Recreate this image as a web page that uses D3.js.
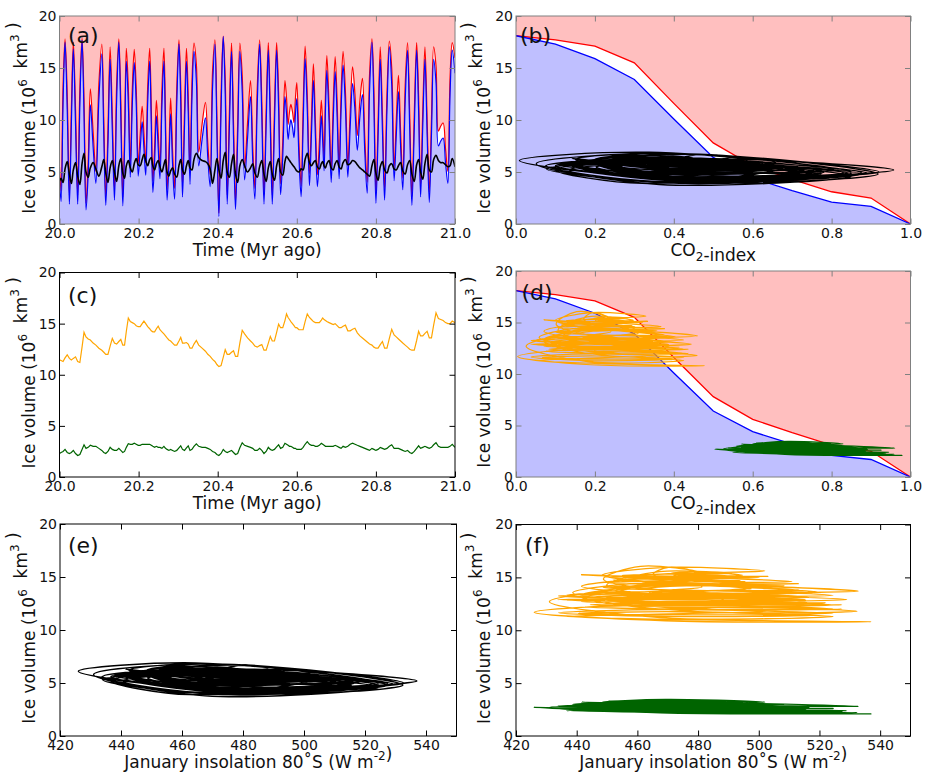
<!DOCTYPE html>
<html>
<head>
<meta charset="utf-8">
<script src="https://cdn.jsdelivr.net/npm/d3@7"></script>
<style>
  body { margin: 0; background: #ffffff; }
  svg { display: block; font-family: "DejaVu Sans", "Liberation Sans", sans-serif; }
</style>
</head>
<body>
<svg id="chart" width="930" height="782"></svg>
<script>
// ---------------- DATA ----------------
// Time samples (Myr ago): insolation extremes and the quarter-phase points between them
const time = [
  20.000,20.004,20.009,20.014,20.0195,20.025,20.030,20.035,20.0405,20.046,
  20.0515,20.057,20.062,20.067,20.0725,20.078,20.085,20.092,20.0995,20.107,
  20.112,20.117,20.1225,20.128,20.1335,20.139,20.1445,20.150,20.155,20.160,
  20.1645,20.169,20.174,20.179,20.184,20.189,20.194,20.199,20.204,20.209,
  20.2135,20.218,20.223,20.228,20.232,20.236,20.2405,20.245,20.2495,20.254,
  20.259,20.264,20.268,20.272,20.2765,20.281,20.286,20.291,20.2965,20.302,
  20.3065,20.311,20.316,20.321,20.3255,20.330,20.335,20.340,20.346,20.352,
  20.3605,20.369,20.375,20.381,20.387,20.393,20.398,20.403,20.4085,20.414,
  20.419,20.424,20.4295,20.435,20.440,20.445,20.4505,20.456,20.462,20.468,
  20.4755,20.483,20.4885,20.494,20.500,20.506,20.5115,20.517,20.5225,20.528,
  20.533,20.538,20.5435,20.549,20.554,20.559,20.5645,20.570,20.574,20.578,
  20.5815,20.585,20.589,20.593,20.5965,20.600,20.6055,20.611,20.616,20.621,
  20.6265,20.632,20.637,20.642,20.647,20.652,20.657,20.662,20.6655,20.669,
  20.6725,20.676,20.6815,20.687,20.692,20.697,20.702,20.707,20.712,20.717,
  20.723,20.729,20.735,20.741,20.747,20.753,20.7595,20.766,20.772,20.778,
  20.784,20.790,20.795,20.800,20.8055,20.811,20.8165,20.822,20.828,20.834,
  20.840,20.846,20.8515,20.857,20.8625,20.868,20.874,20.880,20.8855,20.891,
  20.897,20.903,20.908,20.913,20.9185,20.924,20.9295,20.935,20.9405,20.946,
  20.952,20.958,20.964,20.970,20.976,20.982,20.9875,20.993,21.000
];
// January insolation 80°S (W m-2)
const insolation = [
  496,518,467,434,469,524.5,473.4,440.6,473.4,524.5,
  467.5,431,470.7,532.7,493,467.6,480.2,500,466.2,444.5,
  476.8,527.4,479.5,448.8,475.2,516.5,466.2,434,471,529,
  480.7,449.9,467.3,494.6,467.8,450.6,467.5,494,481,472.7,
  480.8,493.5,466.9,449.9,472.8,508.5,485.6,470.9,480.5,495.6,
  467.7,449.9,475.9,516.5,488.3,470.3,487.9,515.5,467.4,436.7,
  466.6,513.3,474.6,449.9,469.8,501,465.4,442.6,460.4,488.3,
  478,471.5,483.8,503,462.5,436.7,475.8,537,469.3,426,
  464.4,524.5,474.5,442.6,477.6,532.4,477.6,442.6,463.7,496.8,
  477.5,465.2,484.8,515.5,467.4,436.7,470.9,524.5,473.9,441.6,
  473.9,524.5,473.9,441.6,468.7,511,483.1,465.2,470.2,478,
  474.4,472.1,474.2,477.5,470.4,465.8,484.2,513,473.6,448.4,
  469.3,502,476.6,460.4,477,503,483.4,470.9,478.7,491,
  469,455,472.2,499,472.6,455.7,471.3,495.6,469,452,
  468.6,494.6,474.3,461.3,469.1,481.3,471.1,464.6,482.1,509.5,
  463.3,433.8,468.2,522,477.4,448.8,475.2,516.5,469,438.7,
  461.6,497.5,476.9,463.7,480.2,506,466.7,441.6,475.1,527.4,
  475.1,441.6,469.6,513.3,474,448.8,476.4,519.5,476.4,448.8,
  461,480,478.5,477.6,486.4,500.1,464.4,441.6,456.6
];
// Ice volume (10^6 km^3), black run
const iceBlack = [
  4.1,4.4,4.0,5.3,6.0,4.8,3.9,5.2,5.9,4.6,
  3.8,5.8,6.8,5.0,4.5,5.4,5.9,5.3,4.6,5.5,
  6.2,4.9,4.0,5.4,6.1,5.0,4.1,5.6,6.3,4.9,
  4.4,5.6,6.1,5.4,5.0,5.8,6.3,5.7,5.6,6.2,
  6.7,6.1,5.6,6.2,6.4,5.6,5.2,5.8,6.1,5.5,
  5.0,5.7,6.2,5.0,4.6,5.1,5.4,4.8,4.5,5.6,
  6.2,5.2,4.8,5.6,6.1,5.4,5.2,6.2,6.8,6.4,
  6.1,6.0,5.8,5.3,3.9,5.2,6.3,5.2,4.4,6.1,
  6.9,5.0,4.5,5.8,6.7,4.8,4.0,5.6,6.2,5.6,
  5.0,5.4,5.8,4.9,4.5,5.5,6.1,4.8,4.1,5.4,
  6.0,4.8,4.2,5.6,6.3,5.0,4.7,6.0,6.5,6.3,
  6.1,5.9,5.7,5.5,5.3,5.1,5.0,5.3,5.2,6.2,
  6.8,5.9,5.6,5.9,6.1,5.5,5.3,5.8,6.0,5.6,
  5.4,5.8,6.1,5.4,5.2,5.8,6.1,5.5,5.3,5.9,
  6.2,5.7,5.8,6.1,6.0,5.7,5.4,5.2,5.0,4.8,
  4.6,5.6,6.2,4.9,4.2,5.5,6.0,5.2,4.9,5.6,
  5.8,5.3,5.2,5.6,5.9,5.1,4.8,5.7,6.1,4.8,
  4.1,5.7,6.2,5.0,4.3,5.8,6.7,5.2,5.0,6.2,
  6.6,6.1,5.9,5.9,5.7,5.5,5.6,6.3,5.5
];
// Ice volume, orange run
const iceOrange = [
  11.45,11.4,11.3,11.65,11.95,11.6,11.45,11.6,11.75,11.3,
  11.2,12.7,14.15,13.7,13.5,13.4,13.1,12.9,12.6,12.4,
  12.2,12.0,12.0,12.8,13.55,13.1,13.0,13.25,13.45,12.9,
  12.9,14.25,15.55,15.2,15.1,15.0,14.8,14.7,14.7,15.0,
  15.25,15.0,14.7,14.5,14.3,14.2,14.2,14.5,14.75,14.4,
  14.2,14.0,13.8,13.6,13.4,13.3,13.1,12.9,12.9,13.3,
  13.65,13.1,13.1,13.15,13.0,12.6,12.6,13.0,13.35,12.9,
  12.6,12.3,12.0,11.8,11.5,11.3,11.0,10.8,10.9,11.7,
  12.45,12.0,12.0,12.2,12.35,11.8,11.8,13.1,14.35,14.0,
  13.6,13.3,13.1,12.8,12.7,12.85,12.95,12.4,12.4,13.1,
  13.75,13.3,13.3,14.15,14.95,14.6,14.6,15.3,15.95,15.6,
  15.4,15.2,15.0,14.8,14.6,14.6,14.4,14.4,14.4,15.2,
  15.95,15.6,15.4,15.2,15.1,15.1,15.1,15.35,15.55,15.4,
  15.3,15.2,15.1,15.0,14.9,15.0,14.8,14.6,14.6,14.75,
  14.85,14.3,14.3,14.45,14.55,14.1,13.8,13.6,13.4,13.2,
  13.0,12.9,12.7,12.6,12.6,12.95,13.25,12.6,12.6,13.55,
  14.45,13.9,13.7,13.5,13.3,13.1,12.9,12.7,12.5,12.4,
  12.4,13.35,14.25,13.8,13.8,14.05,14.25,13.6,13.6,14.85,
  16.05,15.5,15.4,15.3,15.1,15.0,15.0,15.25,15.1
];
// Ice volume, green run
const iceGreen = [
  2.3,2.4,2.5,2.7,2.4,2.3,2.4,2.6,2.3,2.1,
  2.2,2.7,3.15,2.8,2.9,3.1,3.0,3.0,2.8,2.6,
  2.4,2.3,2.5,2.9,2.7,2.6,2.6,2.8,2.6,2.4,
  2.5,2.9,3.25,3.2,3.2,3.3,3.2,3.1,3.1,3.2,
  3.2,3.2,3.2,3.2,3.1,3.0,2.9,3.0,2.9,2.9,
  2.8,3.0,2.8,2.7,2.6,2.7,2.6,2.5,2.6,2.85,
  3.05,2.7,2.6,2.85,3.05,2.6,2.7,3.0,3.25,3.0,
  2.9,2.9,2.8,2.7,2.5,2.4,2.2,2.1,2.3,2.7,
  2.5,2.4,2.5,2.6,2.4,2.2,2.3,2.85,3.35,3.1,
  3.0,2.9,2.8,2.6,2.6,2.8,2.6,2.3,2.5,2.9,
  2.7,2.6,2.7,2.95,3.15,2.8,2.9,3.3,3.2,3.1,
  3.0,3.0,2.9,2.8,2.8,2.7,2.7,2.7,2.9,3.2,
  3.45,3.2,3.1,3.1,3.0,3.0,3.1,3.3,3.2,3.1,
  3.0,3.0,3.0,3.0,3.0,3.1,3.0,2.9,2.8,3.0,
  2.9,3.0,3.2,3.3,3.2,3.1,3.0,2.9,2.8,2.7,
  2.6,2.8,2.7,2.6,2.7,2.9,2.8,2.7,2.8,3.0,
  3.15,2.8,2.8,2.8,2.7,2.6,2.5,2.6,2.4,2.3,
  2.5,2.8,3.05,2.8,2.9,3.0,2.9,2.8,2.9,3.15,
  3.35,3.0,2.9,2.9,2.9,2.9,3.0,3.2,2.9
];
// Glaciation (red) and deglaciation (blue) thresholds vs CO2-index
const co2Grid        = [0.0, 0.1, 0.2, 0.3, 0.4, 0.5, 0.6, 0.7, 0.8, 0.9, 1.0];
const redThreshold   = [18.1,17.7,17.1,15.5,11.6,7.8, 5.6, 4.3, 3.1, 2.5, 0.0];
const blueThreshold  = [18.1,17.3,15.9,13.9,10.1,6.4, 4.4, 3.2, 2.1, 1.7, 0.0];
// insolation range mapped onto the CO2-index of each run
const insolationSpan = [425, 542];
const co2SpanBlack  = [0.0, 1.0];
const co2SpanOrange = [0.0, 0.5];
const co2SpanGreen  = [0.5, 1.0];
// ticks
const timeTicks  = [20.0, 20.2, 20.4, 20.6, 20.8, 21.0];
const co2Ticks   = [0.0, 0.2, 0.4, 0.6, 0.8, 1.0];
const insolTicks = [420, 440, 460, 480, 500, 520, 540];
const iceTicks   = [0, 5, 10, 15, 20];

// ---------------- STYLE ----------------
const C = { pink: "#ffbfbf", lightBlue: "#bfbfff", red: "#ff0000", blue: "#0000ff",
            black: "#000000", orange: "#ffa500", green: "#006400" };
const boxes = {
  a: { x0: 59.5, x1: 455,   y0: 16,    y1: 224 },
  b: { x0: 516,  x1: 910.5, y0: 16,    y1: 224 },
  c: { x0: 59.5, x1: 455,   y0: 272.5, y1: 477 },
  d: { x0: 516,  x1: 910.5, y0: 271,   y1: 477 },
  e: { x0: 60,   x1: 456.5, y0: 524,   y1: 736 },
  f: { x0: 516,  x1: 910.5, y0: 524.5, y1: 736 }
};

const svg = d3.select("#chart");
const defs = svg.append("defs");
const curve = d3.curveCatmullRom.alpha(0.5);

const redAt = d3.scaleLinear().domain(co2Grid).range(redThreshold).clamp(true);
const blueAt = d3.scaleLinear().domain(co2Grid).range(blueThreshold).clamp(true);
const co2Black = d3.scaleLinear().domain(insolationSpan).range(co2SpanBlack);
const co2Orange = d3.scaleLinear().domain(insolationSpan).range(co2SpanOrange);
const co2Green = d3.scaleLinear().domain(insolationSpan).range(co2SpanGreen);

function panel(id, xDomain, xTicks, xFmt, frameColor) {
  const box = boxes[id];
  const x = d3.scaleLinear().domain(xDomain).range([box.x0, box.x1]);
  const y = d3.scaleLinear().domain([0, 20]).range([box.y1, box.y0]);
  defs.append("clipPath").attr("id", "clip-" + id).append("rect")
    .attr("x", box.x0).attr("y", box.y0)
    .attr("width", box.x1 - box.x0).attr("height", box.y1 - box.y0);
  const g = svg.append("g");
  const plot = g.append("g").attr("clip-path", `url(#clip-${id})`);
  return { id, x, y, g, plot, box, xTicks, xFmt, frameColor };
}

function axes(p) {
  const { x, y, g, box, frameColor } = p;
  const put = (gen, tr) => {
    const a = g.append("g").attr("transform", tr).call(gen);
    a.attr("font-size", null).attr("font-family", null);
    a.select(".domain").remove();
    a.selectAll(".tick line").attr("stroke", frameColor).attr("stroke-width", 1);
    a.selectAll(".tick text").attr("font-size", 14).attr("fill", "#111");
  };
  const none = () => "";
  put(d3.axisBottom(x).tickValues(p.xTicks).tickFormat(p.xFmt).tickSizeInner(-5.5).tickSizeOuter(0).tickPadding(4), `translate(0,${box.y1})`);
  put(d3.axisTop(x).tickValues(p.xTicks).tickFormat(none).tickSizeInner(-5.5).tickSizeOuter(0), `translate(0,${box.y0})`);
  put(d3.axisLeft(y).tickValues(iceTicks).tickFormat(d3.format("d")).tickSizeInner(-5.5).tickSizeOuter(0).tickPadding(3), `translate(${box.x0},0)`);
  put(d3.axisRight(y).tickValues(iceTicks).tickFormat(none).tickSizeInner(-5.5).tickSizeOuter(0), `translate(${box.x1},0)`);
  g.append("rect").attr("x", box.x0).attr("y", box.y0)
    .attr("width", box.x1 - box.x0).attr("height", box.y1 - box.y0)
    .attr("fill", "none").attr("stroke", frameColor).attr("stroke-width", 1);
}

function richText(sel, parts) {
  parts.forEach(pt => {
    if (pt.sup) {
      sel.append("tspan").attr("dy", -8).attr("font-size", 12).text(pt.t);
      sel.append("tspan").attr("dy", 8).text("");
    } else if (pt.sub) {
      sel.append("tspan").attr("dy", 5).attr("font-size", 12).text(pt.t);
      sel.append("tspan").attr("dy", -5).text("");
    } else {
      sel.append("tspan").text(pt.t);
    }
  });
}

const yLabelParts = [{ t: "Ice volume (10" }, { t: "6", sup: true }, { t: "\u00a0\u00a0km" }, { t: "3", sup: true }, { t: "\u00a0)" }];

function labels(p, letter, letterX, letterDy, xParts, yLabelX) {
  const box = p.box;
  p.g.append("text").attr("x", letterX).attr("y", box.y0 + letterDy)
    .attr("font-size", 22).attr("fill", "#111").text(letter);
  const xl = p.g.append("text").attr("x", (box.x0 + box.x1) / 2).attr("y", box.y1 + 32)
    .attr("text-anchor", "middle").attr("font-size", 17).attr("fill", "#111");
  richText(xl, xParts);
  const yl = p.g.append("text")
    .attr("transform", `translate(${yLabelX},${(box.y0 + box.y1) / 2 - 2}) rotate(-90)`)
    .attr("text-anchor", "middle").attr("font-size", 17).attr("fill", "#111");
  richText(yl, yLabelParts);
}

function line(p, pts, color, width) {
  p.plot.append("path").datum(pts)
    .attr("fill", "none").attr("stroke", color).attr("stroke-width", width)
    .attr("stroke-linejoin", "round")
    .attr("d", d3.line().curve(curve).x(d => p.x(d[0])).y(d => p.y(d[1])));
}

function thresholdBackground(p) {
  const bnd = co2Grid.map((c, i) => ({ c, r: redThreshold[i], b: blueThreshold[i] }));
  p.plot.append("path").datum(bnd).attr("fill", C.pink)
    .attr("d", d3.area().x(d => p.x(d.c)).y0(p.y(20)).y1(d => p.y(d.r)));
  p.plot.append("path").datum(bnd).attr("fill", C.lightBlue)
    .attr("d", d3.area().x(d => p.x(d.c)).y0(p.y(0)).y1(d => p.y(d.b)));
  p.plot.append("path").datum(bnd).attr("fill", "none").attr("stroke", C.red).attr("stroke-width", 1.3)
    .attr("d", d3.line().x(d => p.x(d.c)).y(d => p.y(d.r)));
  p.plot.append("path").datum(bnd).attr("fill", "none").attr("stroke", C.blue).attr("stroke-width", 1.3)
    .attr("d", d3.line().x(d => p.x(d.c)).y(d => p.y(d.b)));
}

const fmt1 = d3.format(".1f");
const fmtInt = d3.format("d");
const timeLabel = [{ t: "Time (Myr ago)" }];
const co2Label = [{ t: "CO" }, { t: "2", sub: true }, { t: "-index" }];
const insolLabel = [{ t: "January insolation 80\u02daS (W m" }, { t: "-2", sup: true }, { t: ")" }];

// ---------- (a) ----------
{
  const p = panel("a", [20, 21], timeTicks, fmt1, "#808080");
  const s = time.map((t, i) => ({ t, r: redAt(co2Black(insolation[i])), b: blueAt(co2Black(insolation[i])), v: iceBlack[i] }));
  p.plot.append("path").datum(s).attr("fill", C.pink)
    .attr("d", d3.area().curve(curve).x(d => p.x(d.t)).y0(p.y(20)).y1(d => p.y(d.r)));
  p.plot.append("path").datum(s).attr("fill", C.lightBlue)
    .attr("d", d3.area().curve(curve).x(d => p.x(d.t)).y0(p.y(0)).y1(d => p.y(d.b)));
  line(p, s.map(d => [d.t, d.r]), C.red, 1.2);
  line(p, s.map(d => [d.t, d.b]), C.blue, 1.2);
  line(p, s.map(d => [d.t, d.v]), C.black, 1.6);
  axes(p);
  labels(p, "(a)", 68, 27, timeLabel, 35);
}
// ---------- (b) ----------
{
  const p = panel("b", [0, 1], co2Ticks, fmt1, "#808080");
  thresholdBackground(p);
  line(p, insolation.map((v, i) => [co2Black(v), iceBlack[i]]), C.black, 1.3);
  axes(p);
  labels(p, "(b)", 520, 27, co2Label, 490);
}
// ---------- (c) ----------
{
  const p = panel("c", [20, 21], timeTicks, fmt1, "#000000");
  p.plot.append("path").datum(time.map((t, i) => [t, iceOrange[i]]))
    .attr("fill", "none").attr("stroke", C.orange).attr("stroke-width", 1.2)
    .attr("d", d3.line().x(d => p.x(d[0])).y(d => p.y(d[1])));
  p.plot.append("path").datum(time.map((t, i) => [t, iceGreen[i]]))
    .attr("fill", "none").attr("stroke", C.green).attr("stroke-width", 1.2)
    .attr("d", d3.line().x(d => p.x(d[0])).y(d => p.y(d[1])));
  axes(p);
  labels(p, "(c)", 68, 30, timeLabel, 35);
}
// ---------- (d) ----------
{
  const p = panel("d", [0, 1], co2Ticks, fmt1, "#808080");
  thresholdBackground(p);
  line(p, insolation.map((v, i) => [co2Orange(v), iceOrange[i]]), C.orange, 1.2);
  line(p, insolation.map((v, i) => [co2Green(v), iceGreen[i]]), C.green, 1.2);
  axes(p);
  labels(p, "(d)", 521.5, 29, co2Label, 490);
}
// ---------- (e) ----------
{
  const p = panel("e", [420, 550], insolTicks, fmtInt, "#000000");
  line(p, insolation.map((v, i) => [v, iceBlack[i]]), C.black, 1.4);
  axes(p);
  labels(p, "(e)", 68, 29, insolLabel, 35);
}
// ---------- (f) ----------
{
  const p = panel("f", [420, 550], insolTicks, fmtInt, "#000000");
  line(p, insolation.map((v, i) => [v, iceOrange[i]]), C.orange, 1.3);
  line(p, insolation.map((v, i) => [v, iceGreen[i]]), C.green, 1.3);
  axes(p);
  labels(p, "(f)", 525, 28.5, insolLabel, 490);
}
</script>
</body>
</html>
